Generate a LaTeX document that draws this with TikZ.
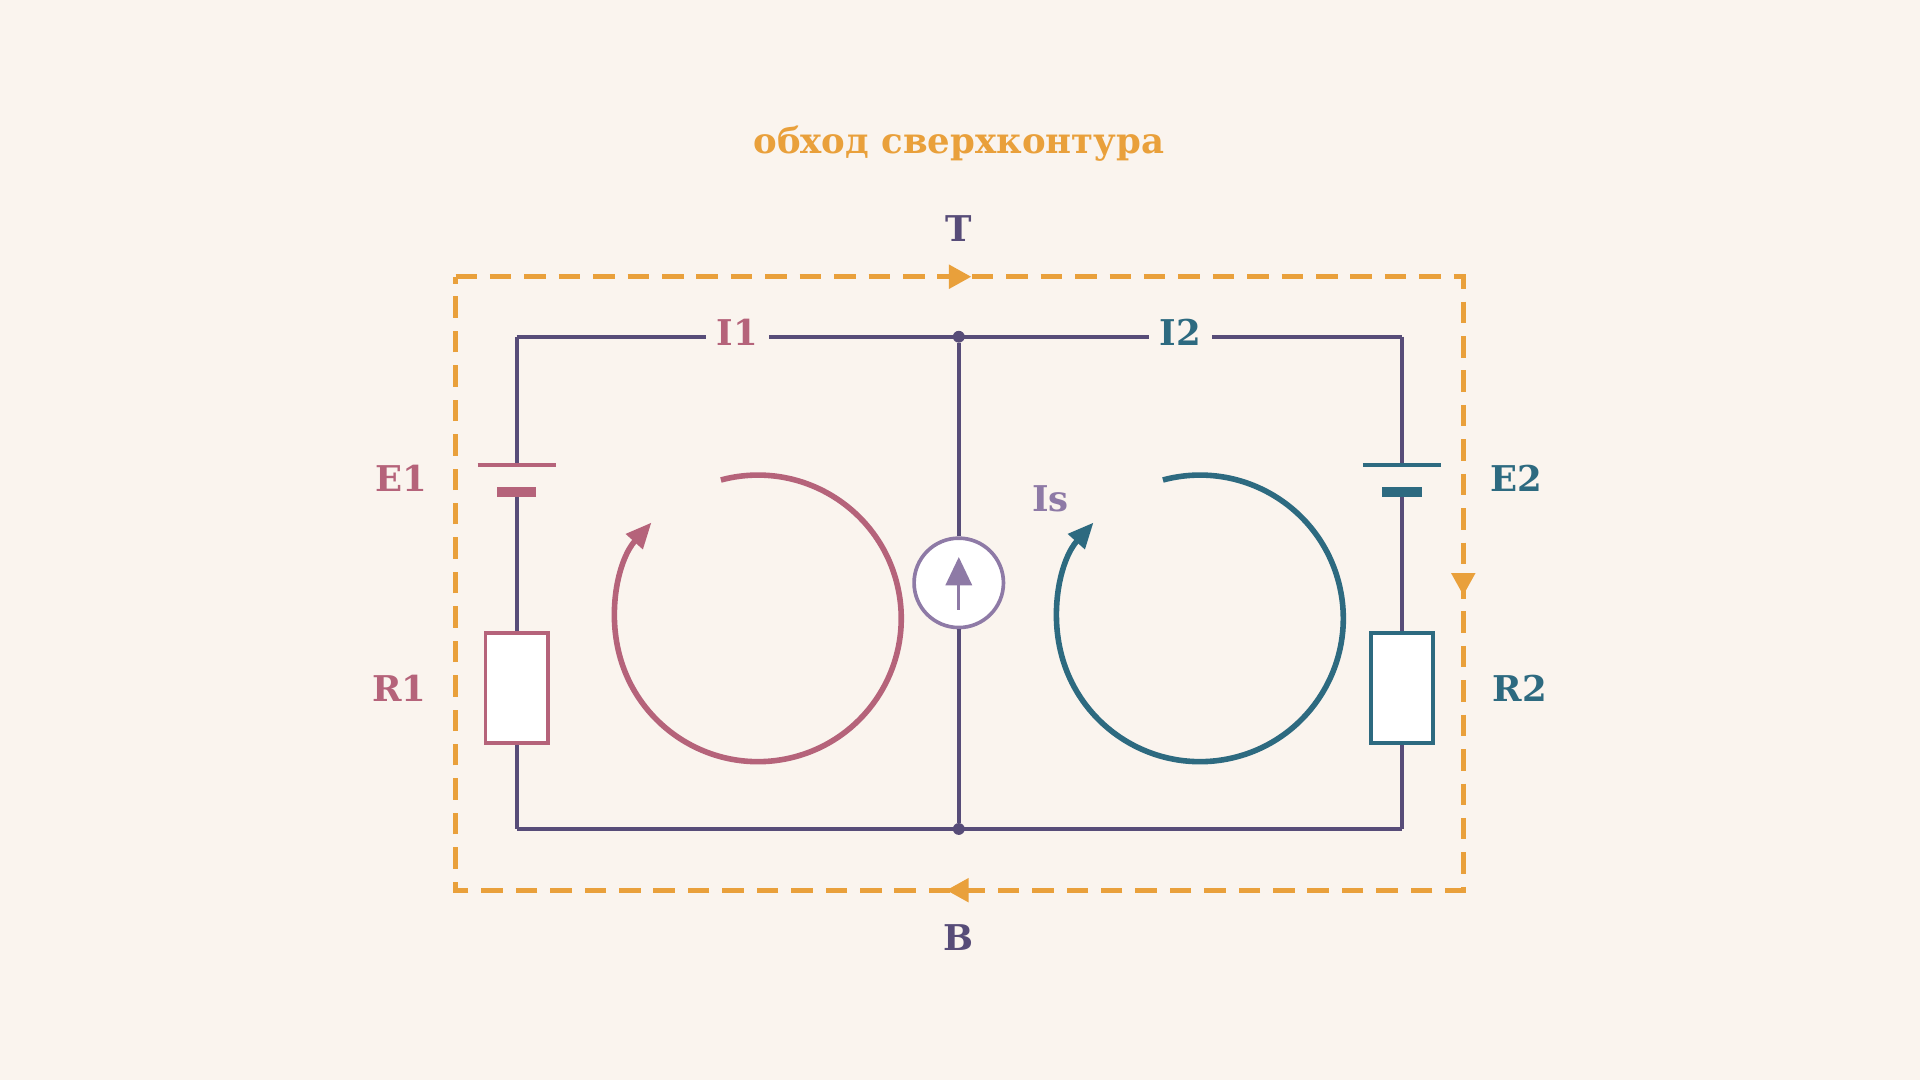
\documentclass[tikz,border=0pt]{standalone}
\usepackage{fontspec}
\setmainfont{DejaVu Serif}
\usetikzlibrary{arrows.meta}
\definecolor{bg}{HTML}{FAF4EE}
\definecolor{wire}{HTML}{574C78}
\definecolor{pink}{HTML}{B5637A}
\definecolor{teal}{HTML}{2D6A80}
\definecolor{orng}{HTML}{E9A03B}
\definecolor{purp}{HTML}{8E7AA6}
\tikzset{
  w/.style={draw=wire,line width=2pt},
  lbl/.style={font=\bfseries\fontsize{16.5}{20}\selectfont},
  loop/.style={line width=2.6pt,-{Triangle[length=12pt,width=10pt]}},
  res/.style={draw,line width=1.7pt,fill=white},
  dot/.style={circle,fill=wire,inner sep=0pt,minimum size=5.5pt}
}
\begin{document}
\begin{tikzpicture}[x=0.02cm,y=0.02cm]
\fill[bg] (0,0) rectangle (1568,-882);
\useasboundingbox (0,0) rectangle (1568,-882);
\node[lbl,text=orng] (title) at (783,-117) {обход сверхконтура};
\node[lbl,text=wire] (T) at (783,-187) {T};
\node[lbl,text=wire] (B) at (783,-766) {B};
% super contour
\coordinate (c1) at (372,-226); \coordinate (c2) at (1195,-226);
\coordinate (c3) at (1195,-727); \coordinate (c4) at (372,-727);
\draw[orng,line width=2.3pt,dash pattern=on 10pt off 6pt] (c1)--(c2)--(c3)--(c4)--cycle;
\coordinate (ma) at (783,-226); \coordinate (mb) at (1195,-476); \coordinate (mc) at (783,-727);
\fill[orng] (ma)++(10,0)--++(-18,10)--++(0,-20)--cycle;
\fill[orng] (mb)++(0,-10)--++(-10,18)--++(20,0)--cycle;
\fill[orng] (mc)++(-10,0)--++(18,10)--++(0,-20)--cycle;
% nodes
\coordinate (tl) at (422,-275); \coordinate (tr) at (1145,-275);
\coordinate (bl) at (422,-677); \coordinate (br) at (1145,-677);
\node[dot] (tm) at (783,-275) {}; \node[dot] (bm) at (783,-677) {};
\draw[w] (tl)--(tr); \draw[w] (bl)--(br);
% middle
\node[circle,draw=purp,line width=1.7pt,fill=white,minimum size=73*0.02cm,inner sep=0pt] (Is) at (783,-476) {};
\draw[w] (tm)--(Is.north); \draw[w] (Is.south)--(bm);
\draw[purp,line width=1.4pt] (783,-498)--(783,-470);
\fill[purp] (783,-455)--(772,-478)--(794,-478)--cycle;
\node[lbl,text=purp] (IsL) at (858,-407) {Is};
% left branch
\coordinate (e1a) at (422,-380); \coordinate (e1b) at (422,-402);
\node[res,draw=pink,minimum width=51*0.02cm,minimum height=90*0.02cm,inner sep=0pt] (R1) at (422,-562) {};
\draw[w] (tl)--(e1a); \draw[w] (e1b)--(R1.north); \draw[w] (R1.south)--(bl);
\draw[pink,line width=2pt] (390,-380)--(454,-380);
\draw[pink,line width=4.8pt] (406,-402)--(438,-402);
\node[lbl,text=pink] (E1) at (328,-391) {E1};
\node[lbl,text=pink] (R1L) at (326,-562) {R1};
% right branch
\coordinate (e2a) at (1145,-380); \coordinate (e2b) at (1145,-402);
\node[res,draw=teal,minimum width=51*0.02cm,minimum height=90*0.02cm,inner sep=0pt] (R2) at (1145,-562) {};
\draw[w] (tr)--(e2a); \draw[w] (e2b)--(R2.north); \draw[w] (R2.south)--(br);
\draw[teal,line width=2pt] (1113,-380)--(1177,-380);
\draw[teal,line width=4.8pt] (1129,-402)--(1161,-402);
\node[lbl,text=teal] (E2) at (1238,-391) {E2};
\node[lbl,text=teal] (R2L) at (1241,-562) {R2};
% current labels
\node[lbl,text=pink,fill=bg,inner xsep=5pt] (I1) at (602,-271) {I1};
\node[lbl,text=teal,fill=bg,inner xsep=5pt] (I2) at (964,-271) {I2};
% loops
\draw[loop,pink] (619,-505) ++(105:117) arc[start angle=105,end angle=-222,radius=117];
\draw[loop,teal] (980,-505) ++(105:117) arc[start angle=105,end angle=-222,radius=117];
\end{tikzpicture}
\end{document}
